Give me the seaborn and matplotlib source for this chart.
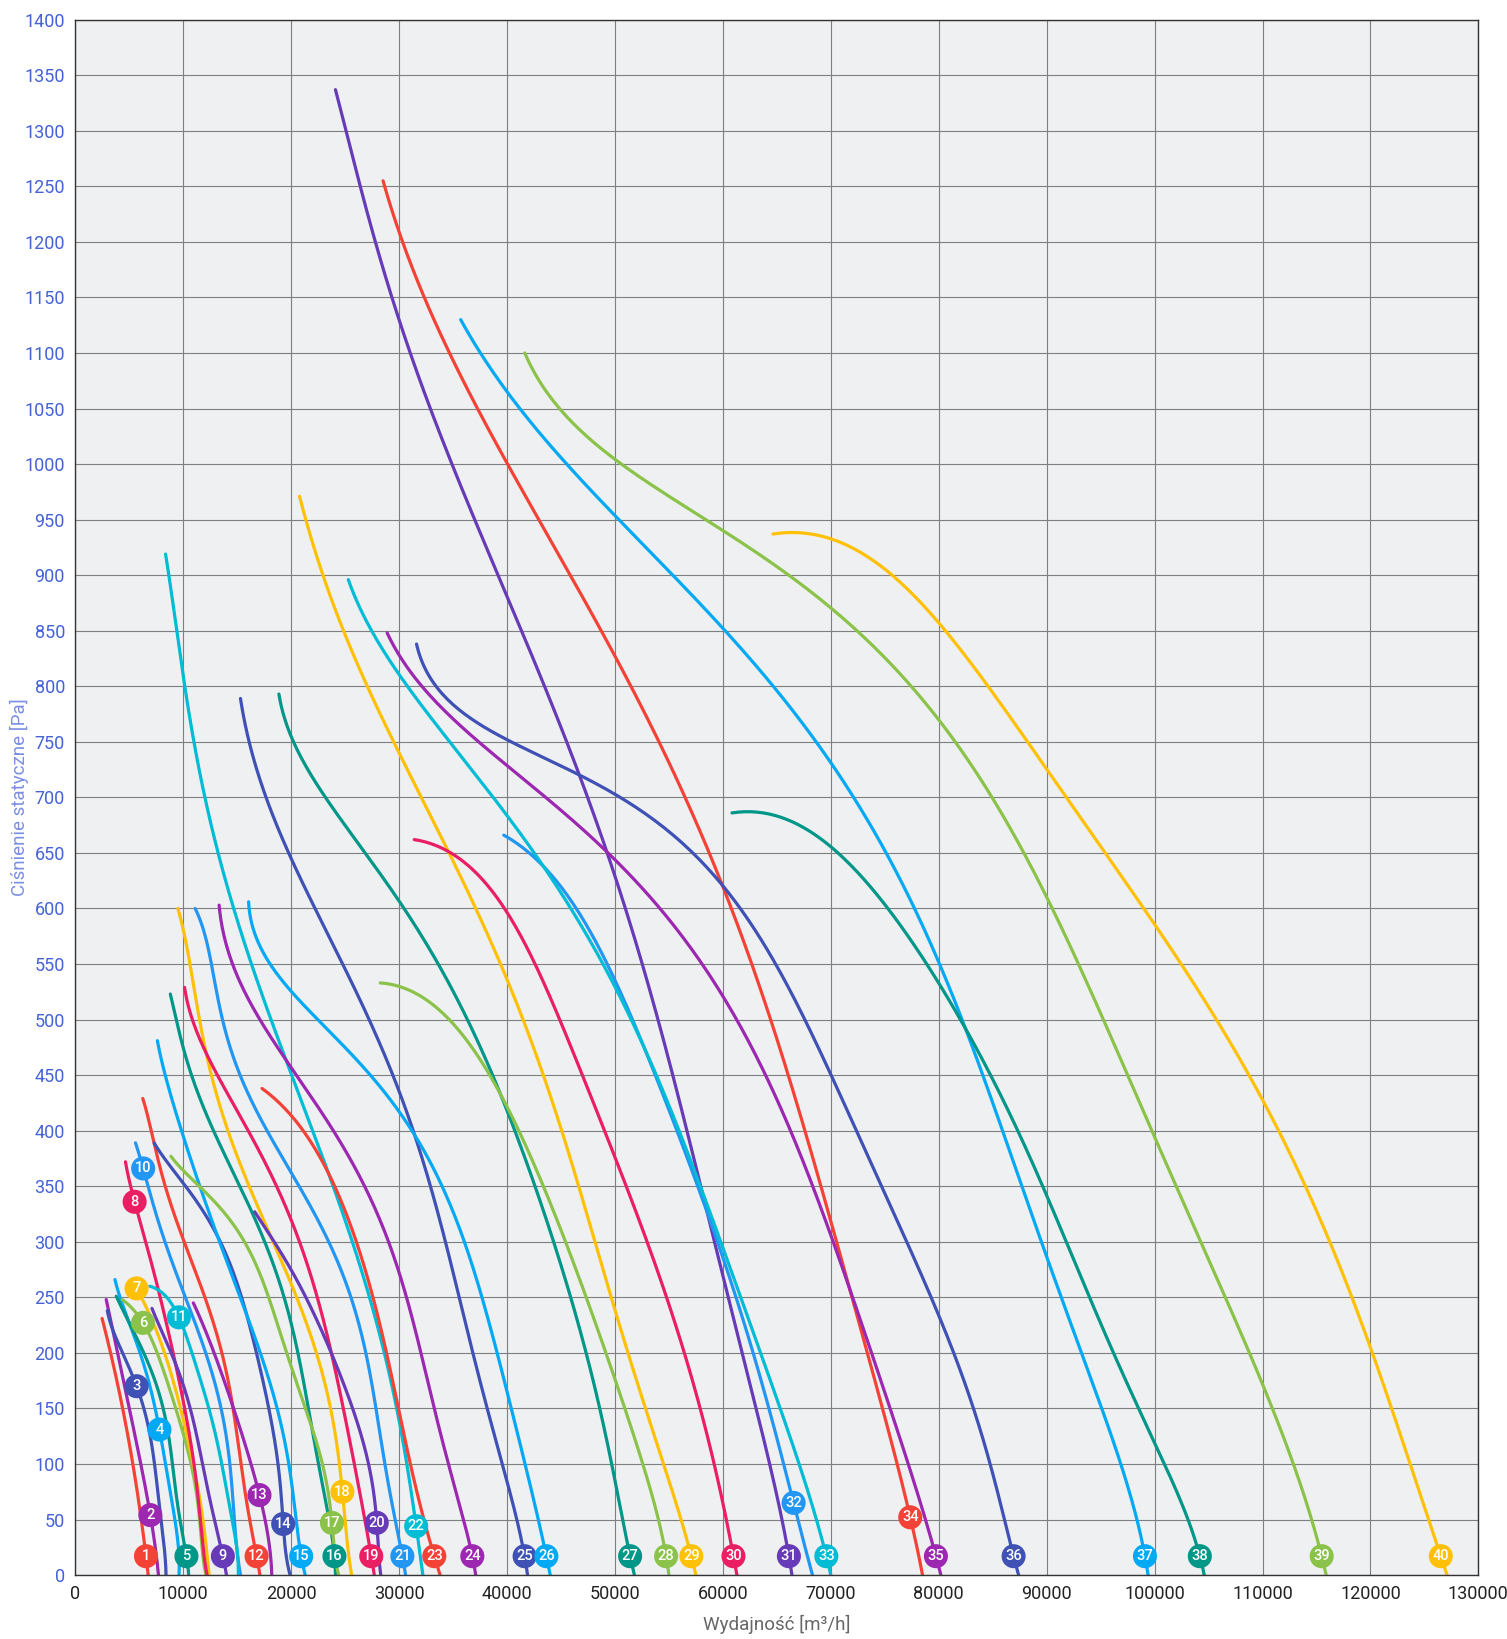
import numpy as np
import pandas as pd
import matplotlib.pyplot as plt
import seaborn as sns

# Fan curves: flow q [m3/h] and static pressure p [Pa]
q1 = [2480, 3715, 4644, 5573, 6037, 6500, 6750]
p1 = [231, 181, 137, 83, 59, 17, 0]
q2 = [2860, 3520, 4334, 5000, 5800, 6850, 7700]
p2 = [248, 217, 182, 150, 112, 60, 0]
q3 = [2960, 3830, 4760, 5620, 6300, 7220, 7840, 8400]
p3 = [238, 211, 193, 171, 151, 109, 58, 0]
q4 = [3670, 4760, 5990, 6910, 7750, 8460, 9070, 9600]
p4 = [266, 232, 202, 169, 131, 97, 58, 0]
q5 = [3790, 5060, 6300, 7530, 8460, 9070, 9540, 10300, 10500]
p5 = [251, 226, 200, 172, 133, 97, 58, 17, 0]
q6 = [4350, 6250, 7530, 8770, 10000, 10930, 11420, 12100]
p6 = [248, 227, 202, 166, 127, 91, 58, 0]
q7 = [5200, 5620, 6610, 7840, 9070, 10310, 11230, 11700, 12400]
p7 = [266, 258, 241, 211, 175, 127, 85, 58, 0]
q8 = [4644, 5480, 6800, 7900, 9200, 10100, 10900, 11500, 12200]
p8 = [372, 336, 291, 247, 195, 151, 106, 58, 0]
q9 = [7100, 8150, 9380, 10620, 11540, 12640, 13700, 14000]
p9 = [240, 217, 187, 151, 113, 59, 17, 0]
q10 = [5573, 6310, 7430, 8700, 10100, 11550, 13100, 14040, 14660, 15300]
p10 = [389, 366, 325, 290, 252, 215, 166, 122, 59, 0]
q11 = [6900, 7600, 8500, 9610, 10930, 12170, 13420, 14350, 15100]
p11 = [260, 258, 249, 232, 196, 157, 107, 59, 0]
q12 = [6250, 6900, 8400, 10000, 11550, 13100, 14350, 15280, 15900, 16900, 17100]
p12 = [429, 403, 350, 301, 262, 217, 166, 107, 59, 17, 0]
q13 = [10930, 12480, 14040, 15590, 16830, 17800, 18200]
p13 = [245, 211, 166, 122, 83, 35, 0]
q14 = [7300, 9380, 11550, 13730, 15280, 16520, 17760, 18700, 19160, 19900]
p14 = [389, 361, 331, 295, 253, 211, 157, 107, 59, 0]
q15 = [7600, 8760, 10000, 11860, 13730, 15590, 17140, 18700, 19630, 20250, 21100, 21300]
p15 = [481, 430, 400, 340, 289, 241, 202, 151, 107, 59, 17, 0]
q16 = [8800, 9845, 11550, 13100, 14970, 16520, 18080, 19320, 20560, 21800, 22730, 23350, 23900, 24100]
p16 = [523, 481, 430, 391, 355, 325, 289, 250, 196, 143, 92, 59, 17, 0]
q17 = [8850, 11550, 14660, 16830, 18700, 20250, 21800, 23040, 23670, 24400]
p17 = [377, 349, 316, 277, 226, 181, 137, 92, 59, 0]
q18 = [9500, 10530, 11900, 14040, 16210, 18080, 19800, 21180, 22410, 23340, 24120, 24950, 25600]
p18 = [600, 549, 485, 406, 340, 305, 270, 238, 199, 157, 112, 75, 0]
q19 = [10120, 11500, 13000, 14660, 17140, 19940, 21180, 22410, 23650, 24740, 25670, 26440, 27400, 27700]
p19 = [529, 488, 450, 421, 382, 325, 286, 247, 202, 157, 112, 67, 17, 0]
q20 = [16620, 19320, 21800, 23650, 25200, 26440, 27370, 27900, 28300]
p20 = [327, 286, 241, 202, 163, 127, 91, 50, 0]
q21 = [11100, 12700, 14300, 16830, 18080, 20250, 22100, 23960, 25510, 26750, 27680, 28610, 29230, 30300, 30600]
p21 = [600, 542, 480, 415, 395, 357, 326, 292, 253, 202, 157, 112, 67, 17, 0]
q22 = [8360, 9290, 9910, 10840, 12070, 13310, 14550, 16100, 17650, 19940, 21490, 23340, 24890, 26440,
       27680, 28920, 29850, 30770, 31390, 32200]
p22 = [919, 854, 812, 758, 700, 652, 607, 549, 504, 457, 418, 367, 322, 277, 232, 187, 142, 97, 67, 0]
q23 = [17300, 18080, 20250, 22100, 23650, 25200, 26750, 27990, 29230, 30150, 31080, 31940, 33500, 33800]
p23 = [438, 430, 410, 388, 358, 322, 277, 232, 187, 142, 97, 58, 17, 0]
q24 = [13320, 14860, 16410, 18300, 21180, 24270, 26750, 28610, 30100, 31390, 32600, 33870, 34950, 35700,
       36800, 37100]
p24 = [603, 549, 508, 478, 442, 397, 352, 307, 268, 222, 180, 130, 84, 58, 17, 0]
q25 = [15300, 17030, 18890, 20120, 21980, 24460, 26400, 28300, 30050, 31390, 32600, 34180, 35420, 36660,
       37520, 39380, 40620, 41600, 41900]
p25 = [789, 716, 671, 645, 604, 552, 515, 478, 442, 398, 355, 300, 255, 210, 175, 108, 58, 17, 0]
q26 = [16050, 17650, 20100, 22800, 25200, 27370, 29850, 31390, 32940, 34490, 36000, 37500, 38760, 40620,
       41600, 42480, 43700, 44000]
p26 = [606, 562, 522, 495, 472, 448, 422, 400, 372, 340, 295, 250, 213, 150, 105, 58, 17, 0]
q27 = [18860, 20120, 21700, 24500, 27450, 30080, 33180, 36280, 39380, 43100, 45580, 47440, 49300, 49900,
       51400, 51800]
p27 = [793, 761, 722, 675, 641, 611, 560, 498, 430, 338, 263, 192, 120, 90, 17, 0]
q28 = [28250, 30100, 33180, 36280, 39380, 42480, 44960, 47440, 49920, 52400, 52840, 54600, 55000]
p28 = [533, 531, 513, 481, 431, 372, 313, 246, 175, 112, 90, 17, 0]
q29 = [20770, 22070, 24550, 27030, 30000, 32600, 35040, 37500, 40000, 43410, 46510, 49920, 53020, 54630,
       57150, 57500]
p29 = [971, 927, 858, 799, 741, 689, 640, 592, 540, 447, 351, 242, 150, 90, 17, 0]
q30 = [31400, 33500, 35800, 37830, 40000, 42480, 44960, 47130, 49920, 52400, 54880, 57360, 59250, 60900, 61300]
p30 = [662, 658, 645, 623, 596, 552, 498, 447, 380, 313, 246, 171, 98, 17, 0]
q31 = [24100, 25170, 26410, 27800, 29200, 31050, 32910, 35080, 36930, 39100, 41270, 43440, 45600, 47460,
       49320, 51780, 54260, 56740, 58600, 60150, 61400, 62640, 64400, 66000, 66400]
p31 = [1337, 1300, 1250, 1200, 1150, 1100, 1050, 1000, 950, 900, 850, 800, 750, 700, 651, 577, 485, 397,
       322, 263, 217, 175, 90, 17, 0]
q32 = [39700, 42480, 45580, 48680, 51780, 54880, 57360, 59530, 61090, 62640, 64300, 65830, 66550, 68300]
p32 = [666, 648, 611, 560, 498, 422, 359, 296, 254, 208, 148, 92, 65, 0]
q33 = [25290, 27650, 30000, 32290, 35080, 37550, 40000, 43100, 46510, 49920, 52400, 54880, 57050, 59530,
       61090, 62640, 65000, 67250, 69560, 70000]
p33 = [896, 849, 812, 780, 743, 713, 682, 644, 594, 531, 481, 426, 367, 305, 265, 230, 160, 90, 17, 0]
q34 = [28510, 30000, 32290, 34460, 37550, 40000, 42820, 45910, 50000, 53030, 55900, 60000, 62640, 66000,
       69500, 73000, 76500, 77200, 78500]
p34 = [1255, 1216, 1152, 1101, 1042, 1000, 955, 900, 831, 766, 710, 623, 552, 450, 335, 215, 90, 52, 0]
q35 = [28890, 31360, 34460, 37550, 40000, 43750, 46840, 50000, 54880, 57980, 60460, 62640, 66000, 69500,
       73000, 75500, 77380, 79880, 80200]
p35 = [848, 812, 776, 748, 727, 698, 672, 645, 594, 552, 514, 472, 405, 320, 225, 150, 90, 17, 0]
q36 = [31610, 33840, 36320, 40000, 43750, 46840, 50000, 53030, 56300, 60000, 62640, 66800, 72100, 77500,
       81400, 84850, 87000, 87400]
p36 = [838, 808, 776, 750, 729, 716, 702, 684, 661, 630, 592, 500, 400, 300, 200, 90, 17, 0]
q37 = [35700, 37550, 40000, 42510, 45290, 47770, 50000, 53030, 56130, 60000, 62320, 65420, 69700, 74000,
       78500, 83000, 87500, 91500, 94500, 96770, 99000, 99400]
p37 = [1130, 1106, 1072, 1037, 1000, 973, 950, 922, 890, 854, 826, 794, 745, 670, 575, 470, 360, 255,
       170, 90, 17, 0]
q38 = [60840, 62630, 65420, 68000, 72000, 76000, 80000, 84000, 88000, 92000, 96000, 99500, 101800,
       104200, 104600]
p38 = [686, 688, 684, 670, 635, 590, 535, 465, 385, 295, 205, 130, 80, 17, 0]
q39 = [41640, 43750, 46220, 50000, 53030, 57680, 60000, 62940, 65420, 70000, 77500, 85240, 90600, 94500,
       99800, 104700, 109000, 112400, 115500, 115900]
p39 = [1100, 1074, 1046, 1003, 977, 950, 939, 922, 906, 875, 800, 700, 600, 500, 400, 300, 200, 100, 17, 0]
q40 = [64640, 67300, 70500, 74500, 79900, 84500, 88640, 93800, 98840, 105640, 111460, 116310, 120200,
       123600, 126600, 127100]
p40 = [937, 941, 935, 910, 850, 800, 750, 675, 600, 500, 400, 300, 200, 100, 17, 0]

# pressure at which the numbered badge sits on each curve
label_p = [17, 54, 170, 131, 17, 227, 258, 336, 17, 366, 232, 17, 72, 46, 17, 17, 47, 75, 17, 47,
           17, 44, 17, 17, 17, 17, 17, 17, 17, 17, 17, 65, 17, 52, 17, 17, 17, 17, 17, 17]

flows = [q1, q2, q3, q4, q5, q6, q7, q8, q9, q10, q11, q12, q13, q14, q15, q16, q17, q18, q19, q20,
         q21, q22, q23, q24, q25, q26, q27, q28, q29, q30, q31, q32, q33, q34, q35, q36, q37, q38, q39, q40]
pressures = [p1, p2, p3, p4, p5, p6, p7, p8, p9, p10, p11, p12, p13, p14, p15, p16, p17, p18, p19, p20,
             p21, p22, p23, p24, p25, p26, p27, p28, p29, p30, p31, p32, p33, p34, p35, p36, p37, p38, p39, p40]

cycle = ['#f44336', '#9c27b0', '#3f51b5', '#03a9f4', '#009688', '#8bc34a',
         '#ffc107', '#e91e63', '#673ab7', '#2196f3', '#00bcd4']
names = [str(i + 1) for i in range(len(flows))]
colors = {n: cycle[i % len(cycle)] for i, n in enumerate(names)}


# smooth parametric least-squares fit through the read points (ends pinned)
def smooth(xs, ys, n=300):
    x = np.asarray(xs, float) / 130000
    y = np.asarray(ys, float) / 1260
    d = np.hypot(np.diff(x), np.diff(y))
    t = np.concatenate([[0], np.cumsum(d)])
    t = t / t[-1]
    deg = int(min(6, max(3, len(x) - 3)))
    w = np.ones_like(t)
    w[0] = w[-1] = 12
    cx = np.polyfit(t, x, deg, w=w)
    cy = np.polyfit(t, y, deg, w=w)
    tt = np.linspace(0, 1, n)
    return np.polyval(cx, tt) * 130000, np.polyval(cy, tt) * 1260


frames = []
curves = {}
for n, q, p in zip(names, flows, pressures):
    sx, sy = smooth(q, p)
    curves[n] = (sx, sy)
    frames.append(pd.DataFrame({'q': sx, 'p': sy, 'fan': n}))
df = pd.concat(frames, ignore_index=True)

sns.set_style('white')
plt.rcParams['font.family'] = ['Roboto', 'DejaVu Sans']

fig, ax = plt.subplots(figsize=(15.07, 16.39), dpi=100)
fig.subplots_adjust(left=0.05, right=0.981, bottom=0.039, top=0.988)
ax.set_facecolor('#eff0f2')

sns.lineplot(data=df, x='q', y='p', hue='fan', hue_order=names, palette=colors,
             sort=False, estimator=None, legend=False, lw=2.3, ax=ax)


def point_at(sx, sy, yv):
    for j in range(len(sy) - 1, 0, -1):
        if (sy[j - 1] - yv) * (sy[j] - yv) <= 0 and sy[j - 1] != sy[j]:
            t = (yv - sy[j - 1]) / (sy[j] - sy[j - 1])
            return sx[j - 1] + t * (sx[j] - sx[j - 1])
    return sx[-1]


for n, lp in zip(names, label_p):
    sx, sy = curves[n]
    x = point_at(sx, sy, lp)
    ax.scatter([x], [lp], s=300, color=colors[n], edgecolors='none', zorder=5)
    ax.text(x, lp, n, color='white', ha='center', va='center', fontsize=10.5,
            fontweight='medium', zorder=6)

ax.set_xlim(0, 130000)
ax.set_ylim(0, 1400)
ax.set_xticks(range(0, 130001, 10000))
ax.set_yticks(range(0, 1401, 50))
ax.grid(True, color='#7f7f7f', lw=0.8)
ax.set_axisbelow(True)
for s in ax.spines.values():
    s.set_color('#333333')
    s.set_linewidth(1.0)
ax.tick_params(axis='y', labelcolor='#4562d6', labelsize=13, length=4, color='#666666')
ax.tick_params(axis='x', labelcolor='#222222', labelsize=13, length=4, color='#666666')
ax.set_xlabel('Wydajność [m³/h]', color='#666666', fontsize=13.5, labelpad=8)
ax.set_ylabel('Ciśnienie statyczne [Pa]', color='#7b8ee2', fontsize=13.5)
ax.yaxis.set_label_coords(-0.033, 0.5)

plt.savefig('out.png', dpi=100)
